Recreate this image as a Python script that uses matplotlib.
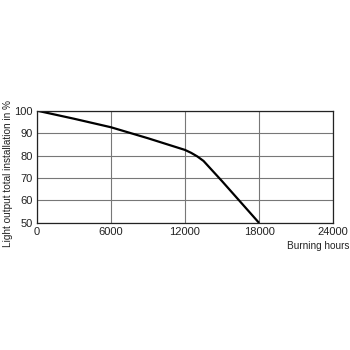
import matplotlib
matplotlib.use("Agg")
import matplotlib.pyplot as plt

hours = [0, 3000, 6000, 9000, 12000, 12500, 13000, 13500, 15000, 18000]
light_output = [100, 96.4, 92.6, 87.7, 82.5, 81.2, 79.6, 77.6, 68.6, 50]
x_ticks = [0, 6000, 12000, 18000, 24000]
y_ticks = [50, 60, 70, 80, 90, 100]

plt.rcParams['font.family'] = ['Liberation Sans', 'DejaVu Sans']
fig = plt.figure(figsize=(3.5, 3.5), dpi=100)
ax = fig.add_axes([0.105, 0.363, 0.847, 0.321])
ax.plot(hours, light_output, color='black', lw=1.6, solid_capstyle='butt')
ax.set_xlim(0, 24000)
ax.set_ylim(50, 100)
ax.set_xticks(x_ticks)
ax.set_yticks(y_ticks)
ax.grid(True, color='#777777', lw=0.8)
ax.tick_params(length=0, labelsize=8, pad=3, colors='#222222')
for s in ax.spines.values():
    s.set_color('#222222')
    s.set_linewidth(0.9)
fig.text(0.997, 0.298, 'Burning hours', ha='right', va='center', fontsize=7.2, color='#222222')
fig.text(0.022, 0.505, 'Light output total installation in %', rotation=90,
         ha='center', va='center', fontsize=7.2, color='#222222')
fig.savefig('out.png', dpi=100, facecolor='white')
